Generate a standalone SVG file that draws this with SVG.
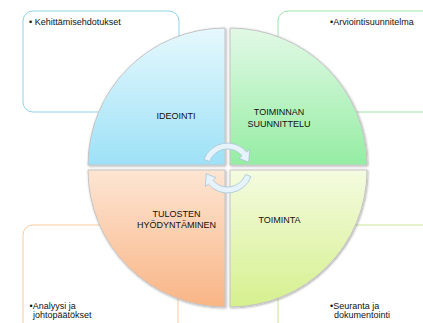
<svg xmlns="http://www.w3.org/2000/svg" width="423" height="323" viewBox="0 0 423 323">
  <defs>
    <linearGradient id="gBlue" x1="0" y1="0" x2="0" y2="1">
      <stop offset="0" stop-color="#e6f8fd"/>
      <stop offset="1" stop-color="#9de1f7"/>
    </linearGradient>
    <linearGradient id="gGreen" x1="0" y1="0" x2="0" y2="1">
      <stop offset="0" stop-color="#e2f9e6"/>
      <stop offset="1" stop-color="#95eda3"/>
    </linearGradient>
    <linearGradient id="gPeach" x1="0" y1="0" x2="0" y2="1">
      <stop offset="0" stop-color="#fde5d3"/>
      <stop offset="1" stop-color="#f9b585"/>
    </linearGradient>
    <linearGradient id="gLime" x1="0" y1="0" x2="0" y2="1">
      <stop offset="0" stop-color="#f4fbe0"/>
      <stop offset="1" stop-color="#d6f08e"/>
    </linearGradient>
    <filter id="sh" x="-10%" y="-10%" width="120%" height="120%">
      <feDropShadow dx="0.8" dy="0.8" stdDeviation="1" flood-color="#000" flood-opacity="0.35"/>
    </filter>
  </defs>
  <style>
    .box { fill: #ffffff; stroke-width: 1; }
    .quad { stroke: #c4c4c4; stroke-width: 1; filter: url(#sh); }
    .lbl { font-family: "Liberation Sans", Arial, sans-serif; font-size: 9px; fill: #111111; text-anchor: middle; }
    .txt { font-family: "Liberation Sans", Arial, sans-serif; font-size: 9px; fill: #111111; }
    .arr { fill: #e6f3fa; stroke: #a7c4d4; stroke-width: 0.8; }
  </style>

  <g id="box-tl">
    <rect class="box" x="23" y="11" width="156" height="101" rx="10" ry="10" stroke="#8fd2ea"/>
    <text class="txt" x="29" y="25">• Kehittämisehdotukset</text>
  </g>
  <g id="box-tr">
    <rect class="box" x="278" y="11" width="180" height="101" rx="10" ry="10" stroke="#9fe3ab"/>
    <text class="txt" x="330" y="25">•Arviointisuunnitelma</text>
  </g>
  <g id="box-bl">
    <rect class="box" x="23" y="225" width="155" height="130" rx="10" ry="10" stroke="#fbc99c"/>
    <text class="txt" x="29.5" y="309">•Analyysi ja</text>
    <text class="txt" x="33" y="318">johtopäätökset</text>
  </g>
  <g id="box-br">
    <rect class="box" x="278" y="225" width="180" height="130" rx="10" ry="10" stroke="#c9e69a"/>
    <text class="txt" x="330" y="309">•Seuranta ja</text>
    <text class="txt" x="334" y="318">dokumentointi</text>
  </g>

  <g id="q-ideointi">
    <path class="quad" d="M225,165 L88,165 A137,137 0 0 1 225,28 Z" fill="url(#gBlue)"/>
    <text class="lbl" x="176" y="119">IDEOINTI</text>
  </g>
  <g id="q-suunnittelu">
    <path class="quad" d="M230,165 L230,28 A137,137 0 0 1 367,165 Z" fill="url(#gGreen)"/>
    <text class="lbl" x="279" y="115">TOIMINNAN</text>
    <text class="lbl" x="279" y="126.5">SUUNNITTELU</text>
  </g>
  <g id="q-hyodyntaminen">
    <path class="quad" d="M225,170 L225,307 A137,137 0 0 1 88,170 Z" fill="url(#gPeach)"/>
    <text class="lbl" x="176.5" y="217">TULOSTEN</text>
    <text class="lbl" x="176.5" y="228">HYÖDYNTÄMINEN</text>
  </g>
  <g id="q-toiminta">
    <path class="quad" d="M230,170 L367,170 A137,137 0 0 1 230,307 Z" fill="url(#gLime)"/>
    <text class="lbl" x="279.5" y="223">TOIMINTA</text>
  </g>

  <g id="connectors">
    <path class="arr" d="M204,159.45 A25,25 0 0 1 246.65,151.93 L249.71,149.36 L248.75,162.31 L238.99,158.36 L242.05,155.79 A19,19 0 0 0 209.65,161.5 Z"/>
    <path class="arr" d="M251,176.55 A25,25 0 0 1 208.35,184.07 L205.29,186.64 L206.25,173.69 L216.01,177.64 L212.95,180.21 A19,19 0 0 0 245.35,174.5 Z"/>
  </g>
</svg>
